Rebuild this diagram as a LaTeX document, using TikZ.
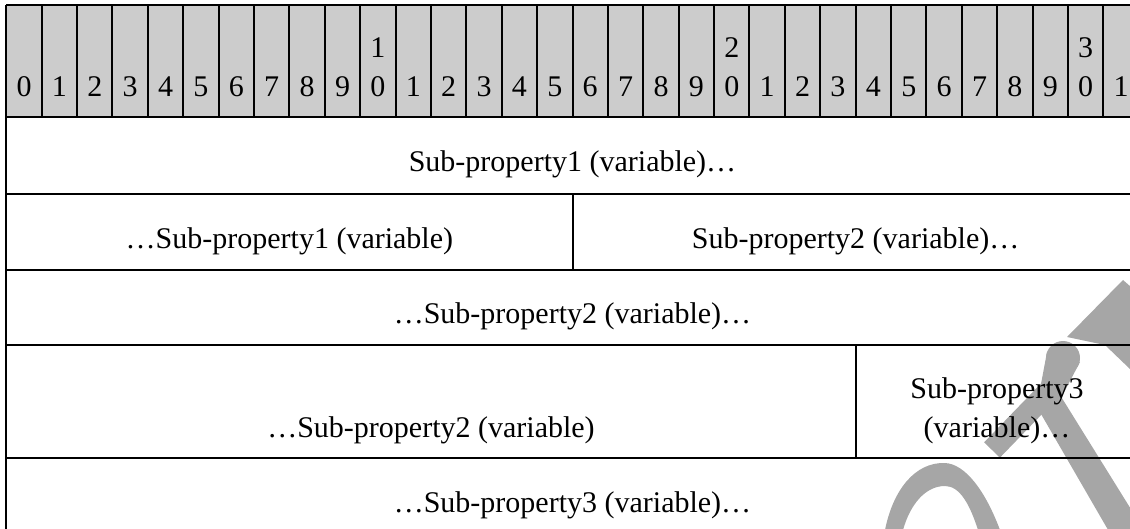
\documentclass[tikz,border=0pt]{standalone}
\usepackage{fontspec}
\setmainfont{Liberation Serif}
\begin{document}
\begin{tikzpicture}[x=1pt,y=-1pt,line width=2pt,
	bits/.style={font=\fontsize{30}{39}\selectfont,anchor=base,inner sep=0pt},
	field/.style={font=\fontsize{30}{39}\selectfont,anchor=base,align=center,inner sep=0pt},
	stamp/.style={fill=black!35,draw=none}]
	\useasboundingbox (0,0) rectangle (1130,529);
	% watermark, partly cut off
	\fill[stamp] (1123,280) -- (1131,287) -- (1131,370) -- (1105,345) -- (1067,337) -- cycle;
	\fill[stamp] (1063,358) circle (17);
	\fill[stamp] (1047,352) -- (1080,362) -- (1060,400) -- (1038,400) -- cycle;
	\draw[black!35,line width=22pt] (1050,390) -- (992,450);
	\fill[stamp] (1030,395) -- (1060,395) -- (1147,535) -- (1111,535) -- cycle;
	\fill[stamp] (885,530) .. controls (893,490) and (915,462) .. (945,463) .. controls (965,464) and (985,490) .. (1000,530) -- (978,530) .. controls (970,505) and (960,486) .. (945,486) .. controls (925,486) and (910,505) .. (903,530) -- cycle;
	% header
	\fill[black!20] (6.3,5) rectangle (1138.7,117.3);
	\foreach \i in {0,...,31} {
		\pgfmathtruncatemacro\u{mod(\i,10)}
		\node[bits] (b\i) at (24+35.39*\i,97) {\u};
	}
	\foreach \t in {1,2,3}
		\node[bits] (t\t) at (24+353.9*\t,58) {\t};
	\foreach \i in {0,...,32}
		\draw (6.3+35.39*\i,5) -- (6.3+35.39*\i,117.3);
	% rows
	\foreach \y in {5,117.3,194,270,345,457.7}
		\draw (6.3,\y) -- (1138.7,\y);
	\draw (6.3,5) -- (6.3,534);
	\draw (572.5,194) -- (572.5,270);
	\draw (855.6,345) -- (855.6,457.7);
	\node[field] (sp1) at (572.5,171.7) {Sub-property1 (variable)…};
	\node[field] (sp1b) at (289.4,248.5) {…Sub-property1 (variable)};
	\node[field] (sp2) at (855.6,248.5) {Sub-property2 (variable)…};
	\node[field] (sp2b) at (572.5,324) {…Sub-property2 (variable)…};
	\node[field] (sp2c) at (431,437) {…Sub-property2 (variable)};
	\node[field] (sp3) at (997,437) {Sub-property3\\(variable)…};
	\node[field] (sp3b) at (572.5,512) {…Sub-property3 (variable)…};
\end{tikzpicture}
\end{document}
